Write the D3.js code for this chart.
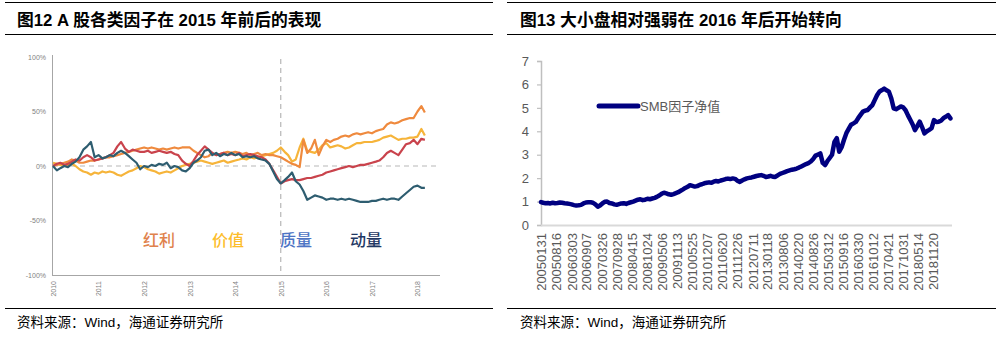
<!DOCTYPE html>
<html>
<head>
<meta charset="utf-8">
<script src="https://cdn.jsdelivr.net/npm/d3@7/dist/d3.min.js"></script>
<style>
  body { margin: 0; background: #fff; }
  svg { display: block; }
</style>
</head>
<body>
<svg id="chart" width="1002" height="338"></svg>
<script>
// ---------- Figure 12: factor cumulative returns (%), monthly, Jan 2010 – Mar 2018 ----------
const factorStart = new Date(2010, 0, 1);
const dividend = [
  0, 1, 2, 3, 4, 6, 5, 3, 3, 4, 5, 5,
  6, 7, 8, 8, 9, 10, 11, 12, 13, 14, 15, 16,
  17, 16, 17, 16, 15, 16, 15, 16, 17, 16, 17, 17,
  17, 14, 12, 10, 8, 9, 12, 10, 11, 12, 13, 12,
  13, 12, 11, 12, 10, 11, 12, 10, 11, 10, 10, 9,
  8, 6, 4, 2, 1, -1, 24, 12, 16, 24, 10, 18,
  24, 22, 24, 25, 27, 28, 27, 29, 30, 29, 30, 31,
  30, 32, 33, 34, 38, 40, 39, 40, 42, 43, 44, 44,
  50, 55, 49
];
const value = [
  3, 2, 1, 0, 1, 2, 0, -3, -5, -6, -8, -6,
  -7, -5, -6, -5, -6, -8, -9, -7, -5, -4, -2, 0,
  -1, -3, -4, -5, -7, -6, -5, -6, -4, -2, 0, 1,
  2, 3, 4, 5, 4, 3, 2, 3, 4, 5, 3, 4,
  5, 6, 7, 6, 8, 7, 8, 9, 10, 11, 12, 14,
  17, 13, 10, 4, 6, 17, 25, 14, 13, 12, 15, 19,
  21, 17, 18, 19, 18, 16, 17, 19, 21, 21, 22, 22,
  22, 23, 24, 26, 27, 28, 26, 24, 25, 25, 26, 26,
  27, 34, 28
];
const quality = [
  0, 2, 3, 1, 2, 4, 6, 5, 8, 10, 8, 5,
  6, 7, 8, 10, 12, 18, 22, 16, 13, 15, 14, 13,
  13, 14, 12, 13, 14, 13, 12, 13, 11, 10, 5, 2,
  0, 5, 10, 14, 18, 15, 12, 10, 11, 12, 10, 11,
  10, 12, 9, 10, 11, 10, 9, 8, 6, 2, -4, -10,
  -16, -14, -13, -12, -13, -13, -12, -11, -11, -10, -9, -8,
  -6, -5, -4, -3, -2, -1, 0, -1, 0, 1, 1, 2,
  3, 4, 5, 8, 12, 14, 12, 10, 15, 20, 21, 24,
  20, 25, 24
];
const momentum = [
  0, -4, -2, 0, -1, 2, 4, 8, 15, 18, 22, 8,
  10, 7, 8, 10, 9, 12, 14, 12, 9, 6, 3, -3,
  0, -1, 1, 0, 2, 1, 3, -2, 0, -1, -4, -5,
  -2, 3, 5, 8, 14, 15, 10, 12, 9, 11, 10, 12,
  10, 11, 8, 9, 8, 9, 7, 6, 5, 2, -5, -12,
  -16, -13, -10, -6, -14, -17, -23, -31, -29, -27, -28, -29,
  -31, -30, -30, -31, -30, -31, -30, -31, -32, -33, -33, -33,
  -32, -32, -31, -30, -31, -30, -30, -31, -28, -25, -22, -19,
  -18, -20, -20
];
const factorYears = ["2010", "2011", "2012", "2013", "2014", "2015", "2016", "2017", "2018"];
const factorPctTicks = [100, 50, 0, -50, -100];
const factorNames = ["红利", "价值", "质量", "动量"];
const factorBreakYear = "2015";

// ---------- Figure 13: SMB factor net value, monthly, Jan 2005 – Jun 2019 ----------
const smbStart = new Date(2005, 0, 31);
const smb = [
  0.98, 0.95, 0.93, 0.94, 0.92, 0.95, 0.93, 0.94, 0.96, 0.95, 0.93, 0.92,
  0.90, 0.88, 0.85, 0.83, 0.84, 0.86, 0.92, 0.96, 0.97, 0.97, 0.95, 0.88,
  0.78, 0.83, 0.92, 0.99, 1.00, 0.94, 0.92, 0.88, 0.86, 0.89, 0.92, 0.93,
  0.90, 0.94, 0.97, 1.00, 1.04, 1.08, 1.10, 1.06, 1.08, 1.12, 1.10, 1.13,
  1.16, 1.20, 1.26, 1.33, 1.38, 1.35, 1.31, 1.29, 1.32, 1.36, 1.40, 1.46,
  1.52, 1.58, 1.63, 1.70, 1.67, 1.64, 1.66, 1.71, 1.74, 1.78, 1.80, 1.82,
  1.80, 1.85, 1.88, 1.86, 1.90, 1.93, 1.96, 1.98, 1.96, 1.99, 1.97, 1.89,
  1.84, 1.90, 1.95, 1.99, 2.01, 2.03, 2.06, 2.09, 2.11, 2.13, 2.10, 2.05,
  2.07, 2.10, 2.06, 2.05, 2.12, 2.18, 2.22, 2.26, 2.30, 2.33, 2.36, 2.38,
  2.41, 2.45, 2.50, 2.55, 2.60, 2.64, 2.71, 2.82, 2.96, 3.00, 3.06, 2.65,
  2.56, 2.72, 2.86, 3.00, 3.55, 3.71, 3.13, 3.32, 3.63, 3.92, 4.10, 4.28,
  4.34, 4.40, 4.56, 4.70, 4.84, 4.88, 4.91, 5.02, 5.12, 5.34, 5.55, 5.70,
  5.76, 5.82, 5.75, 5.69, 5.40, 4.98, 4.94, 5.00, 5.06, 5.02, 4.90, 4.68,
  4.48, 4.30, 4.05, 4.22, 4.41, 4.18, 3.91, 4.00, 4.06, 4.13, 4.48, 4.40,
  4.41, 4.45, 4.56, 4.62, 4.69, 4.55
];
const smbTicks = [0, 1, 2, 3, 4, 5, 6, 7];
const smbDateLabels = [
  "20050131", "20050816", "20060303", "20060907", "20070326", "20070928",
  "20080415", "20081024", "20090506", "20091113", "20100525", "20101207",
  "20110620", "20111226", "20120711", "20130118", "20130806", "20140220",
  "20140826", "20150312", "20150916", "20160330", "20161012", "20170421",
  "20171031", "20180514", "20181120"
];
const smbLegend = "SMB因子净值";

const titles = ["图12 A 股各类因子在 2015 年前后的表现", "图13 大小盘相对强弱在 2016 年后开始转向"];
const sourceNote = "资料来源：Wind，海通证券研究所";

const svg = d3.select("#chart");
const latinCjk = "'Liberation Sans', Arial, 'Noto Sans CJK SC', sans-serif";

// ---------- panel frames: rules, titles, source notes ----------
const panels = [{ x0: 5, x1: 493, tx: 17 }, { x0: 507, x1: 996, tx: 520 }];
panels.forEach((p, i) => {
  [2.5, 34.5, 308.5].forEach(y => {
    svg.append("line").attr("x1", p.x0).attr("x2", p.x1).attr("y1", y).attr("y2", y)
      .attr("stroke", "#000").attr("stroke-width", 1);
  });
  svg.append("text").attr("x", p.tx).attr("y", 26)
    .attr("font-family", latinCjk).attr("font-weight", "bold").attr("font-size", 16.8)
    .attr("fill", "#000").text(titles[i]);
  svg.append("text").attr("x", p.tx).attr("y", 327)
    .attr("font-family", latinCjk).attr("font-size", 13.5)
    .attr("fill", "#000").text(sourceNote);
});

// ---------- Figure 12 ----------
const monthDates = (start, n) => d3.range(n).map(i => d3.timeMonth.offset(start, i));
const fDates = monthDates(factorStart, dividend.length);

const xL = d3.scaleTime().domain([new Date(2010, 0, 1), new Date(2018, 0, 1)]).range([53, 417.5]);
const yL = d3.scaleLinear().domain([-100, 100]).range([275, 57]);

const gL = svg.append("g");

// zero reference line
gL.append("line").attr("x1", 53).attr("x2", 440).attr("y1", yL(0)).attr("y2", yL(0))
  .attr("stroke", "#d0d0d0").attr("stroke-width", 1.4).attr("stroke-dasharray", "5,4");
// 2015 break line
gL.append("line")
  .attr("x1", xL(new Date(+factorBreakYear, 0, 1))).attr("x2", xL(new Date(+factorBreakYear, 0, 1)))
  .attr("y1", 59).attr("y2", 275)
  .attr("stroke", "#a8a8a8").attr("stroke-width", 1).attr("stroke-dasharray", "5,4");

// axes
const yAxisL = gL.append("g").attr("transform", "translate(52,0)")
  .call(d3.axisLeft(yL).tickValues(factorPctTicks).tickSize(0).tickPadding(6).tickFormat(d => d + "%"));
yAxisL.select(".domain").remove();
yAxisL.selectAll("text").attr("font-family", "'Liberation Sans', Arial, sans-serif")
  .attr("font-size", 7).attr("fill", "#7f7f7f");
gL.append("line").attr("x1", 52.5).attr("x2", 52.5).attr("y1", 55).attr("y2", 275)
  .attr("stroke", "#a6a6a6").attr("stroke-width", 1);

const xAxisL = gL.append("g").attr("transform", "translate(0,275)")
  .call(d3.axisBottom(xL).tickValues(factorYears.map(y => new Date(+y, 0, 1)))
    .tickSize(0).tickFormat(d3.timeFormat("%Y")));
xAxisL.select(".domain").remove();
xAxisL.selectAll("text").attr("transform", "rotate(-90)").attr("x", -6).attr("y", 0)
  .attr("dy", "0.35em").attr("text-anchor", "end")
  .attr("font-family", "'Liberation Sans', Arial, sans-serif").attr("font-size", 7).attr("fill", "#7f7f7f");
gL.append("line").attr("x1", 52).attr("x2", 440).attr("y1", 275.5).attr("y2", 275.5)
  .attr("stroke", "#a6a6a6").attr("stroke-width", 1);

// series lines
const lineL = d3.line().x((d, i) => xL(fDates[i])).y(d => yL(d)).curve(d3.curveLinear);
const factorSeries = [
  { data: value, color: "#f6b43a" },
  { data: dividend, color: "#ef8a3e" },
  { data: quality, color: "#c9434c" },
  { data: momentum, color: "#2e5d70" }
];
factorSeries.forEach(s => {
  gL.append("path").datum(s.data).attr("d", lineL)
    .attr("fill", "none").attr("stroke", s.color).attr("stroke-width", 2.2)
    .attr("stroke-linejoin", "round");
});

// factor name labels
const nameColors = ["#e0824c", "#fdbd2a", "#4d74c4", "#1f3864"];
const nameX = [143, 212, 280, 350];
factorNames.forEach((n, i) => {
  gL.append("text").attr("x", nameX[i]).attr("y", 246)
    .attr("font-family", "'Noto Sans CJK SC', sans-serif").attr("font-weight", 500)
    .attr("font-size", 16).attr("fill", nameColors[i]).text(n);
});

// ---------- Figure 13 ----------
const sDates = d3.range(smb.length).map(i => new Date(2005, i + 1, 0));
const parseLbl = d3.timeParse("%Y%m%d");
const xR = d3.scaleTime().domain([smbStart, new Date(2019, 6, 20)]).range([541, 952]);
const yR = d3.scaleLinear().domain([0, 7]).range([225, 61]);

const gR = svg.append("g");

const yAxisR = gR.append("g").attr("transform", "translate(541,0)")
  .call(d3.axisLeft(yR).tickValues(smbTicks).tickSize(4).tickPadding(8).tickFormat(d3.format("d")));
yAxisR.select(".domain").attr("stroke", "#bfbfbf").attr("stroke-width", 1.5);
yAxisR.selectAll(".tick line").attr("stroke", "#bfbfbf").attr("stroke-width", 1.2);
yAxisR.selectAll("text").attr("font-family", "'Liberation Sans', Arial, sans-serif")
  .attr("font-size", 13).attr("fill", "#595959");

const xAxisR = gR.append("g").attr("transform", "translate(0,225)")
  .call(d3.axisBottom(xR).tickValues(smbDateLabels.map(parseLbl)).tickSize(0)
    .tickFormat(d3.timeFormat("%Y%m%d")));
xAxisR.select(".domain").remove();
xAxisR.selectAll("text").attr("transform", "rotate(-90)").attr("x", -8).attr("y", 0)
  .attr("dy", "0.35em").attr("text-anchor", "end")
  .attr("font-family", "'Liberation Sans', Arial, sans-serif").attr("font-size", 13).attr("fill", "#595959");
gR.append("line").attr("x1", 541).attr("x2", 952).attr("y1", 225.5).attr("y2", 225.5)
  .attr("stroke", "#d9d9d9").attr("stroke-width", 2);

const lineR = d3.line().x((d, i) => xR(sDates[i])).y(d => yR(d));
gR.append("path").datum(smb).attr("d", lineR)
  .attr("fill", "none").attr("stroke", "#000080").attr("stroke-width", 4.5)
  .attr("stroke-linejoin", "round").attr("stroke-linecap", "round");

// legend
gR.append("line").attr("x1", 599).attr("x2", 638).attr("y1", 106).attr("y2", 106)
  .attr("stroke", "#000080").attr("stroke-width", 5).attr("stroke-linecap", "round");
gR.append("text").attr("x", 640).attr("y", 111)
  .attr("font-family", latinCjk).attr("font-size", 13).attr("fill", "#595959").text(smbLegend);
</script>
</body>
</html>
